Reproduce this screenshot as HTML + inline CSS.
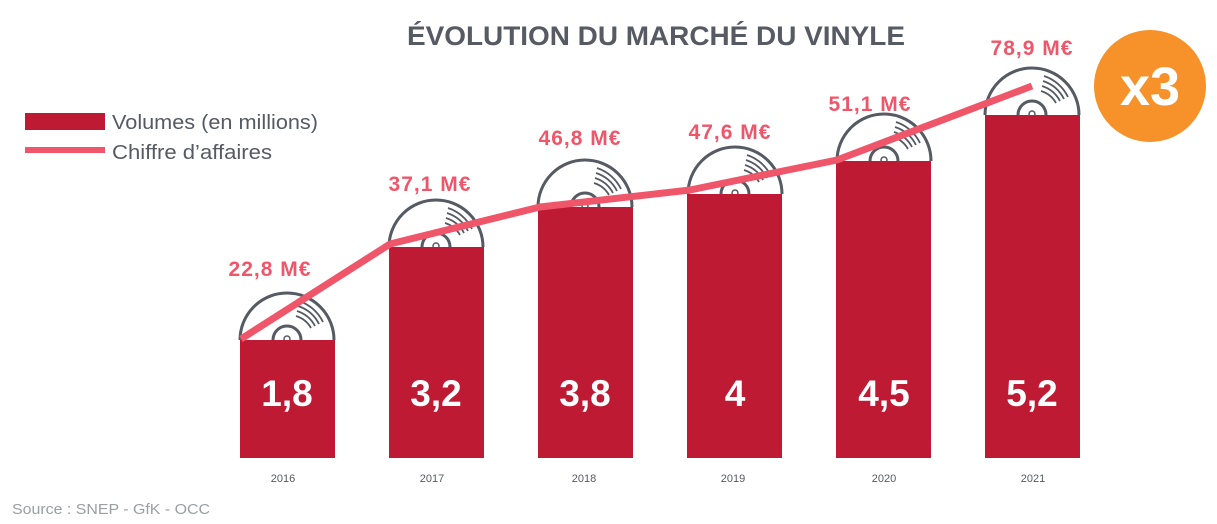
<!DOCTYPE html>
<html><head><meta charset="utf-8"><style>
body{margin:0;background:#fff;}
svg{display:block;font-family:"Liberation Sans",sans-serif;}
</style></head><body>
<svg width="1217" height="524" viewBox="0 0 1217 524">
<defs>
<g id="rec">
<path d="M-47,0 A47,47 0 0 1 47,0" fill="none" stroke="#555a63" stroke-width="3"/>
<path d="M-14,0 A14,14 0 0 1 14,0" fill="none" stroke="#555a63" stroke-width="3"/>
<circle cx="0" cy="-1" r="3" fill="none" stroke="#555a63" stroke-width="1.5"/>
<path d="M12,-39 A41,41 0 0 1 36,-18" fill="none" stroke="#555a63" stroke-width="1.8"/>
<path d="M11,-34 A36,36 0 0 1 32,-16" fill="none" stroke="#555a63" stroke-width="1.8"/>
<path d="M10,-29 A31,31 0 0 1 28,-14" fill="none" stroke="#555a63" stroke-width="1.8"/>
<path d="M9,-24 A26,26 0 0 1 24,-12" fill="none" stroke="#555a63" stroke-width="1.8"/>
</g>
</defs>
<text x="407" y="45" textLength="498" lengthAdjust="spacingAndGlyphs" font-size="27" font-weight="bold" fill="#555a63">ÉVOLUTION DU MARCHÉ DU VINYLE</text>
<rect x="25" y="113" width="80" height="17" fill="#be1a34"/>
<text x="112" y="129" font-size="20" textLength="206" lengthAdjust="spacingAndGlyphs" fill="#555a63">Volumes (en millions)</text>
<rect x="25" y="147" width="80" height="6" fill="#f0566a"/>
<text x="112" y="159" font-size="20" textLength="160" lengthAdjust="spacingAndGlyphs" fill="#555a63">Chiffre d’affaires</text>
<use href="#rec" x="287" y="340"/>
<use href="#rec" x="436" y="247"/>
<use href="#rec" x="585" y="207"/>
<use href="#rec" x="735" y="194"/>
<use href="#rec" x="884" y="161"/>
<use href="#rec" x="1032" y="115"/>
<g fill="#be1a34">
<rect x="240" y="340" width="95" height="118"/>
<rect x="389" y="247" width="95" height="211"/>
<rect x="538" y="207" width="95" height="251"/>
<rect x="687" y="194" width="95" height="264"/>
<rect x="836" y="161" width="95" height="297"/>
<rect x="985" y="115" width="95" height="343"/>
</g>
<g fill="#fff" font-size="37" font-weight="bold" text-anchor="middle">
<text x="287" y="406">1,8</text><text x="436" y="406">3,2</text><text x="585" y="406">3,8</text>
<text x="735" y="406">4</text><text x="884" y="406">4,5</text><text x="1032" y="406">5,2</text>
</g>
<polyline points="241,339 390,244 540,207 690,190 837,160 1032,86" fill="none" stroke="#f0566a" stroke-width="7" stroke-linejoin="round"/>
<g fill="#f0566a" font-size="21" font-weight="bold" text-anchor="middle" letter-spacing="1">
<text x="270" y="276">22,8 M€</text><text x="430" y="191">37,1 M€</text><text x="580" y="145">46,8 M€</text>
<text x="730" y="139">47,6 M€</text><text x="870" y="111">51,1 M€</text><text x="1032" y="55">78,9 M€</text>
</g>
<circle cx="1150" cy="86" r="56" fill="#f7922a"/>
<text x="1150" y="105" text-anchor="middle" font-size="54" font-weight="bold" fill="#fff">x3</text>
<g fill="#555a63" font-size="11" text-anchor="middle">
<text x="283" y="482">2016</text><text x="432" y="482">2017</text><text x="584" y="482">2018</text>
<text x="733" y="482">2019</text><text x="884" y="482">2020</text><text x="1033" y="482">2021</text>
</g>
<text x="12" y="514" font-size="15" textLength="198" lengthAdjust="spacingAndGlyphs" fill="#9a9ea5">Source : SNEP - GfK - OCC</text>
</svg>
</body></html>
